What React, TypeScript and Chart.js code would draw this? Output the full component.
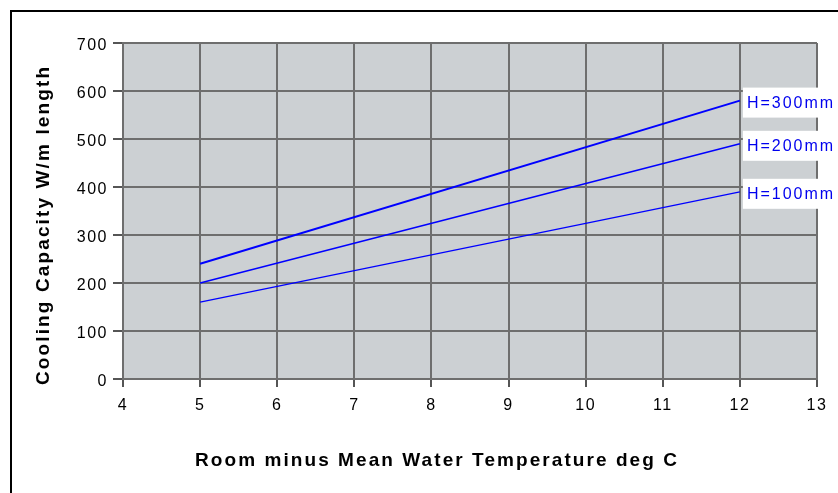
import React, { useEffect, useRef } from "react";
import { Chart, registerables } from "chart.js";

Chart.register(...registerables);

const xValues = [5, 12];
const h300 = [240, 580];
const h200 = [200, 490];
const h100 = [160, 390];
const seriesLabels = ["H=300mm", "H=200mm", "H=100mm"];
const xTitle = "Room minus Mean Water Temperature deg C";
const yTitle = "Cooling Capacity W/m length";

const FONT = "'Liberation Sans', Arial, sans-serif";

function fitSpacing(ctx: CanvasRenderingContext2D, text: string, target: number) {
  (ctx as any).letterSpacing = "0px";
  const w = ctx.measureText(text).width;
  return Math.max(0, (target - w) / (text.length - 1));
}

const decorPlugin = {
  id: "decor",
  beforeDraw(chart: any) {
    const { ctx, chartArea } = chart;
    ctx.save();
    ctx.fillStyle = "#ffffff";
    ctx.fillRect(0, 0, chart.width, chart.height);
    ctx.strokeStyle = "#000000";
    ctx.lineWidth = 2;
    ctx.strokeRect(11, 11, chart.width + 20, chart.height + 20);
    ctx.fillStyle = "#ccd0d3";
    ctx.fillRect(chartArea.left, chartArea.top, chartArea.right - chartArea.left, chartArea.bottom - chartArea.top);
    ctx.restore();
    (ctx as any).letterSpacing = "1.5px";
  },
  afterDraw(chart: any) {
    const { ctx } = chart;
    ctx.save();
    ctx.fillStyle = "#000000";
    ctx.font = `bold 19px ${FONT}`;
    ctx.textAlign = "center";
    ctx.textBaseline = "middle";
    let sp = fitSpacing(ctx, xTitle, 482);
    (ctx as any).letterSpacing = `${sp}px`;
    ctx.fillText(xTitle, 436 + sp / 2, 461);
    (ctx as any).letterSpacing = "0px";
    sp = fitSpacing(ctx, yTitle, 318);
    ctx.translate(44, 226);
    ctx.rotate(-Math.PI / 2);
    (ctx as any).letterSpacing = `${sp}px`;
    ctx.fillText(yTitle, sp / 2, 0);
    ctx.restore();

    ctx.save();
    ctx.font = `16px ${FONT}`;
    ctx.textAlign = "left";
    ctx.textBaseline = "middle";
    (ctx as any).letterSpacing = "2px";
    chart.data.datasets.forEach((ds: any, i: number) => {
      const meta = chart.getDatasetMeta(i);
      const pt = meta.data[meta.data.length - 1];
      ctx.fillStyle = "#ffffff";
      ctx.fillRect(pt.x + 3, pt.y - 13, 200, 30);
      ctx.fillStyle = "#0000ee";
      ctx.fillText(ds.label, pt.x + 7, pt.y + 3);
    });
    ctx.restore();
  },
};

export default function App() {
  const ref = useRef<HTMLCanvasElement>(null);
  useEffect(() => {
    document.body.style.margin = "0";
    const widths = [2, 1.5, 1.3];
    const series = [h300, h200, h100];
    const chart = new Chart(ref.current!, {
      type: "line",
      data: {
        datasets: series.map((s, i) => ({
          label: seriesLabels[i],
          data: xValues.map((x, j) => ({ x, y: s[j] })),
          borderColor: "#0000ff",
          borderWidth: widths[i],
          pointRadius: 0,
          tension: 0,
          fill: false,
        })),
      },
      options: {
        responsive: false,
        animation: false,
        layout: { padding: { left: 0, top: 43, right: 21, bottom: 0 } },
        plugins: { legend: { display: false }, tooltip: { enabled: false } },
        scales: {
          x: {
            type: "linear",
            min: 4,
            max: 13,
            ticks: { stepSize: 1, color: "#000", font: { family: FONT, size: 16 }, padding: 9, maxRotation: 0 },
            grid: { color: "#6e6e6e", lineWidth: 2, tickLength: 8, tickColor: "#555" },
            border: { color: "#6e6e6e", width: 2 },
            afterFit: (s: any) => { s.height = 114; },
          },
          y: {
            min: 0,
            max: 700,
            ticks: { stepSize: 100, color: "#000", font: { family: FONT, size: 16 }, padding: 5, labelOffset: 3 },
            grid: { color: "#6e6e6e", lineWidth: 2, tickLength: 10, tickColor: "#555" },
            border: { color: "#6e6e6e", width: 2 },
            afterFit: (s: any) => { s.width = 123; },
          },
        },
      },
      plugins: [decorPlugin],
    });
    return () => chart.destroy();
  }, []);
  return <canvas ref={ref} width={838} height={493} style={{ display: "block" }} />;
}
